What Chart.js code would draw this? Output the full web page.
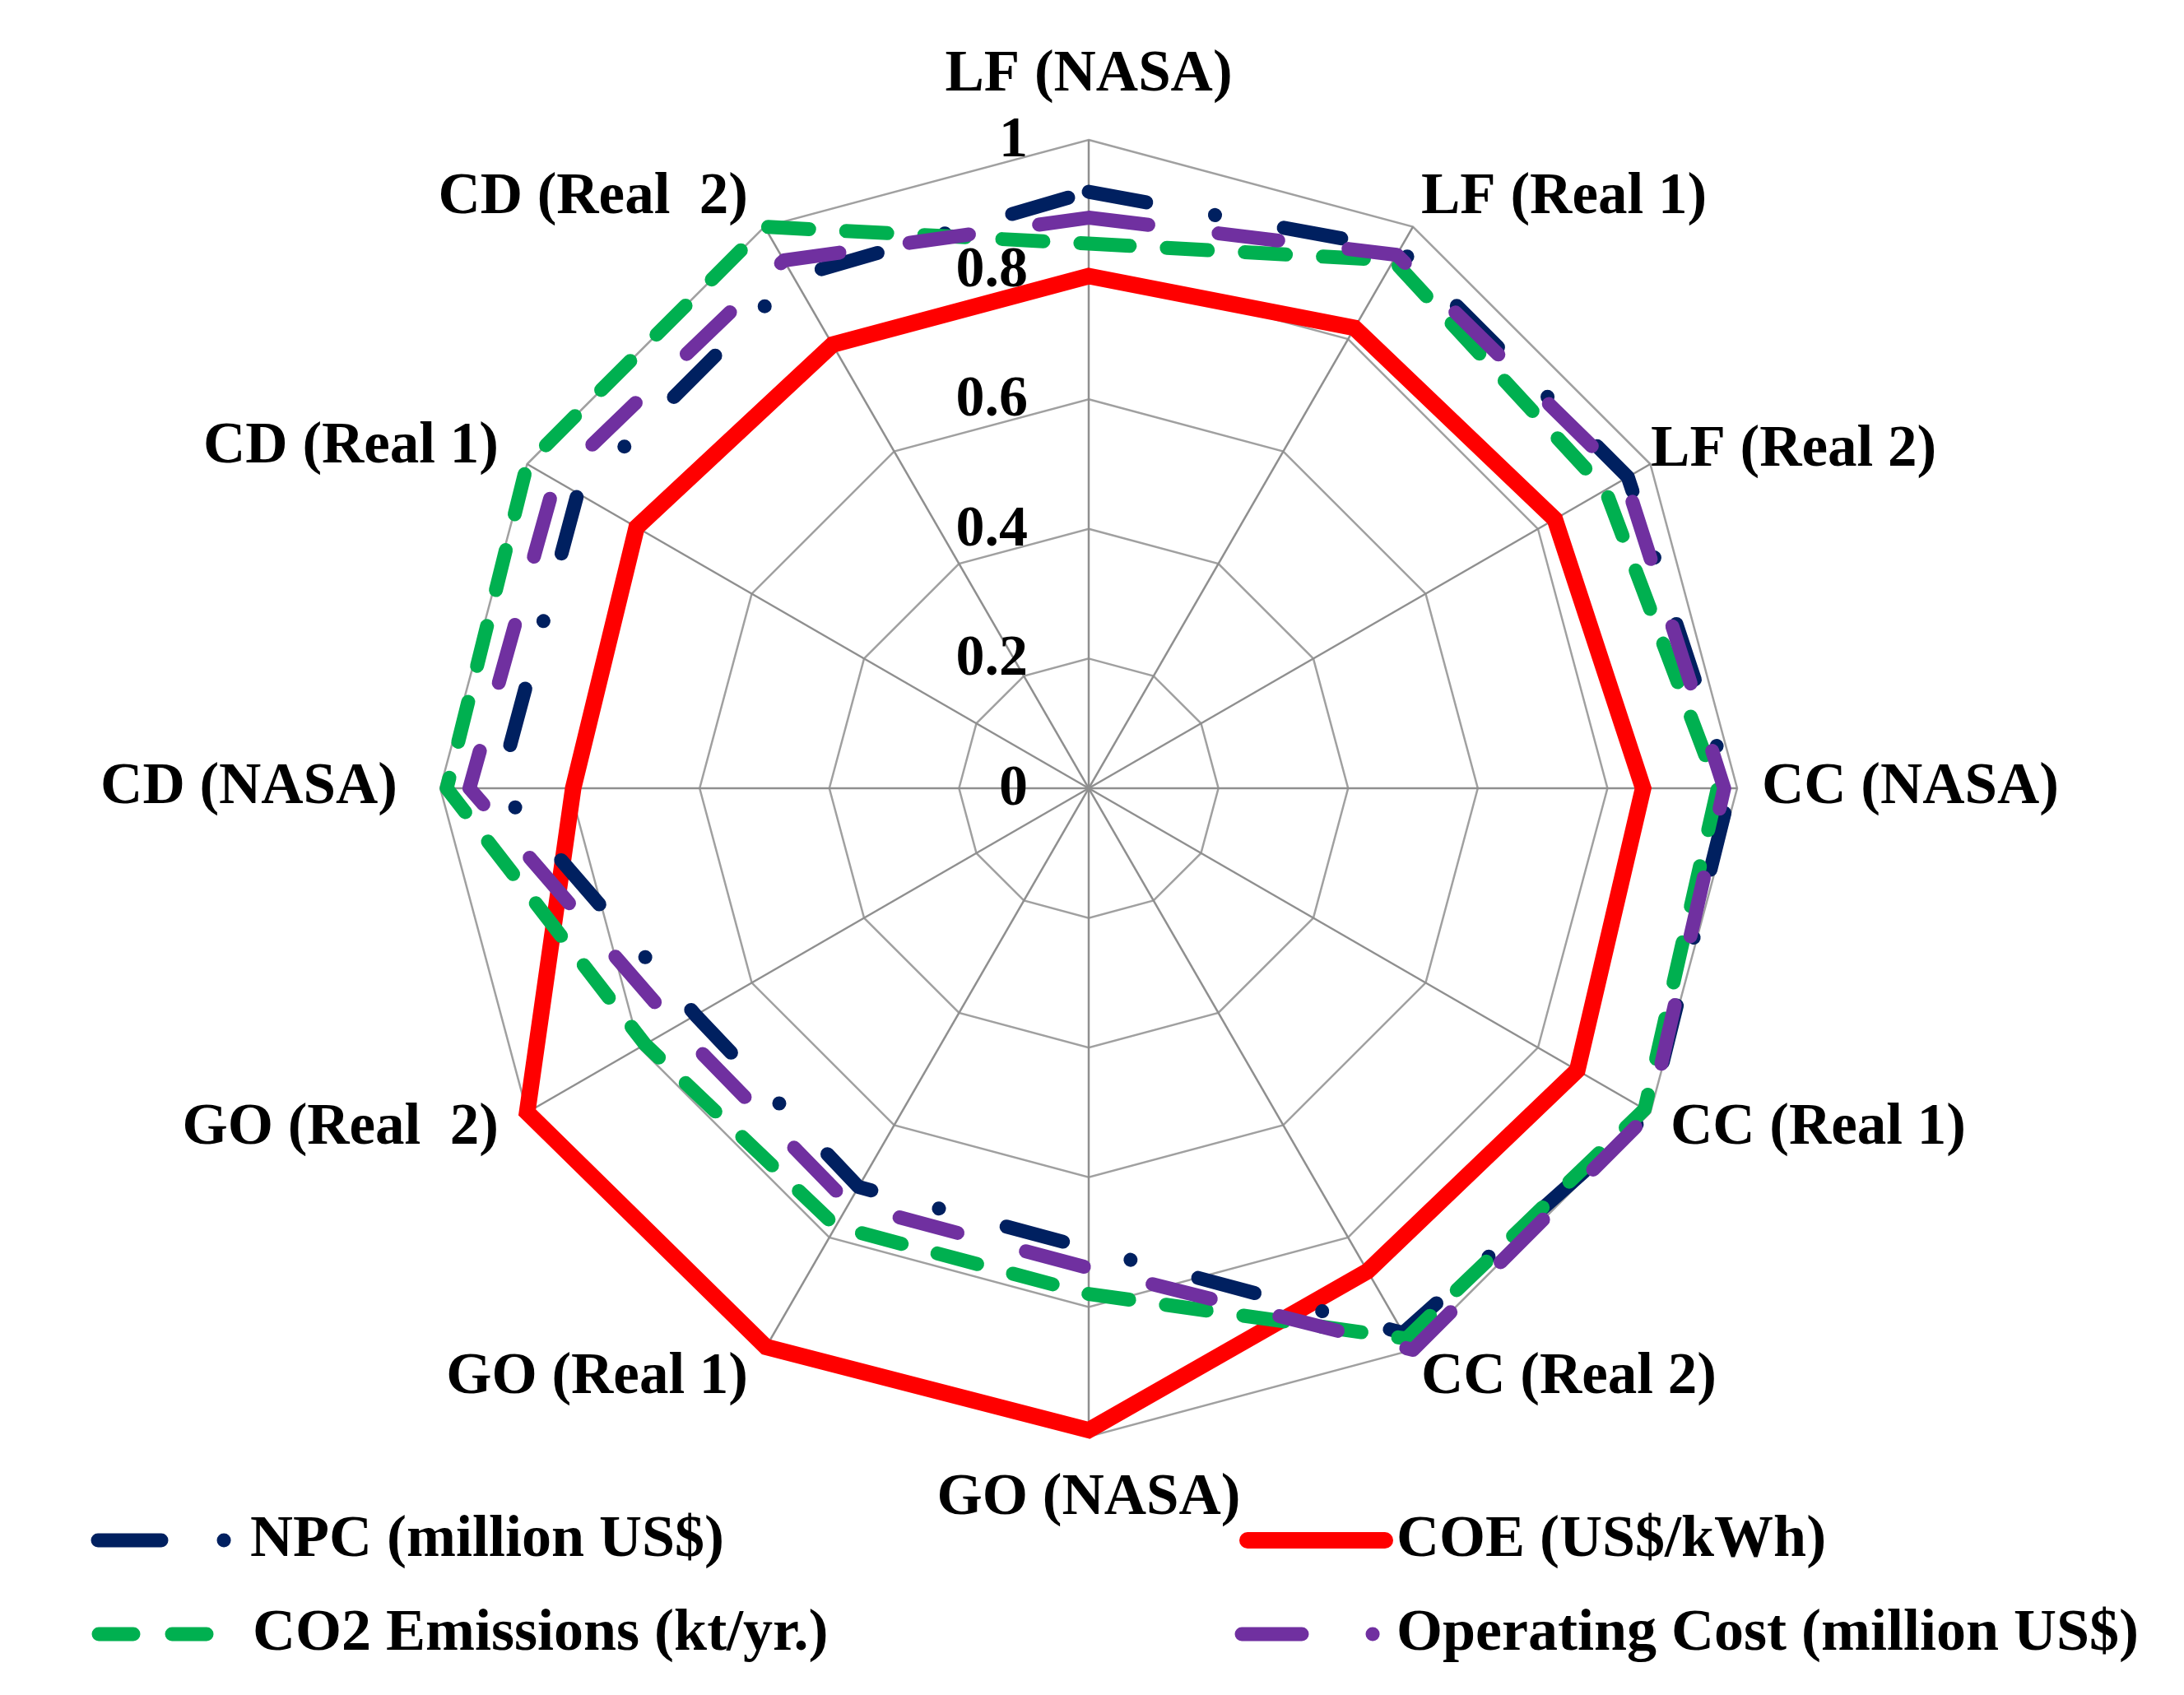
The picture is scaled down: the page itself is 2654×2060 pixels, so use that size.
<!DOCTYPE html>
<html>
<head>
<meta charset="utf-8">
<script src="https://cdn.jsdelivr.net/npm/chart.js@4.4.1/dist/chart.umd.min.js"></script>
<style>
html,body{margin:0;padding:0;background:#ffffff;}
canvas{display:block;}
</style>
</head>
<body>
<canvas id="c" width="2654" height="2060" style="width:2654px;height:2060px"></canvas>
<script>
// ---------------- data ----------------
const categories = ['LF (NASA)','LF (Real 1)','LF (Real 2)','CC (NASA)','CC (Real 1)','CC (Real 2)',
                    'GO (NASA)','GO (Real 1)','GO (Real  2)','CD (NASA)','CD (Real 1)','CD (Real  2)'];
const npcValues    = [0.92, 0.96, 0.96, 0.99, 1.00, 0.97, 0.71, 0.71, 0.70, 0.91, 0.91, 0.91];
const coeValues    = [0.79, 0.82, 0.83, 0.855, 0.87, 0.86, 0.99, 0.995, 1.00, 0.795, 0.805, 0.79];
const co2Values    = [0.84, 0.94, 0.92, 0.97, 0.99, 0.98, 0.78, 0.78, 0.79, 0.99, 1.00, 1.00];
const opCostValues = [0.88, 0.95, 0.955, 0.98, 1.00, 1.00, 0.74, 0.74, 0.735, 0.955, 0.95, 0.94];
const seriesNames  = ['NPC (million US$)', 'COE (US$/kWh)', 'CO2 Emissions (kt/yr.)', 'Operating Cost (million US$)'];
const tickValues   = [0, 0.2, 0.4, 0.6, 0.8, 1];
const tickLabels   = ['0', '0.2', '0.4', '0.6', '0.8', '1'];

// ---------------- styles ----------------
const FONT_LABEL = 'bold 71px "Liberation Serif", "Times New Roman", serif';
const FONT_TICK  = 'bold 70px "Liberation Serif", "Times New Roman", serif';
const FONT_LEG   = 'bold 72px "Liberation Serif", "Times New Roman", serif';
const NAVY = '#002060', RED = '#FF0000', GREEN = '#00B050', PURPLE = '#7030A0';
const DASH_W = 17, RED_W = 20;
const dashNPC = [71, 85, 0.1, 85];
const dashCO2 = [50, 45];
const dashOP  = [73, 86];

function ds(label, values, color, width, dash, order, join) {
  return {
    label: label, data: values, borderColor: color, backgroundColor: 'rgba(0,0,0,0)',
    borderWidth: width, borderDash: dash, borderCapStyle: 'round', borderJoinStyle: join,
    fill: false, pointRadius: 0, pointHoverRadius: 0, tension: 0, order: order
  };
}

const pointLabelPlugin = {
  id: 'pointLabelsCustom',
  afterDraw(chart) {
    const s = chart.scales.r, ctx = chart.ctx;
    ctx.save();
    ctx.fillStyle = '#000';
    ctx.font = FONT_LABEL;
    ctx.textBaseline = 'middle';
    categories.forEach((lab, i) => {
      const ang = s.getIndexAngle(i);
      const sn = Math.sin(ang), cs = Math.cos(ang);
      const p = s.getPointPosition(i, s.drawingArea + 40);
      let y = p.y;
      let x = p.x;
      let align;
      if (Math.abs(sn) < 0.05) { align = 'center'; y += (cs > 0 ? -38 : 36); }
      else align = sn > 0 ? 'left' : 'right';
      if (sn > 0.05) x -= 10;
      if (sn > 0.8 && sn < 0.95 && cs > 0) { x -= 24; y += 4; }
      if (sn < -0.95) x -= 12;
      ctx.textAlign = align;
      ctx.fillText(lab, x, y);
    });
    // tick labels
    ctx.font = FONT_TICK;
    ctx.textAlign = 'right';
    tickValues.forEach((v, k) => {
      const p = s.getPointPositionForValue(0, v);
      ctx.fillText(tickLabels[k], s.xCenter - 74, p.y + 2);
    });
    ctx.restore();
  }
};

const legendPlugin = {
  id: 'legendCustom',
  afterDraw(chart) {
    const ctx = chart.ctx;
    ctx.save();
    ctx.lineCap = 'round';
    const y1 = 1872, y2 = 1986;
    function seg(x0, x1, y, color, w) {
      ctx.strokeStyle = color; ctx.lineWidth = w;
      ctx.beginPath(); ctx.moveTo(x0, y); ctx.lineTo(x1, y); ctx.stroke();
    }
    // NPC
    seg(119, 196, y1, NAVY, DASH_W); seg(272, 272.1, y1, NAVY, DASH_W);
    // COE
    seg(1516, 1683, y1, RED, RED_W);
    // CO2
    seg(120, 162, y2, GREEN, DASH_W); seg(209, 251, y2, GREEN, DASH_W);
    // Operating cost
    seg(1509, 1582, y2, PURPLE, DASH_W); seg(1668, 1668.1, y2, PURPLE, DASH_W);
    ctx.fillStyle = '#000';
    ctx.font = FONT_LEG;
    ctx.textAlign = 'left';
    ctx.textBaseline = 'middle';
    ctx.fillText(seriesNames[0], 304, y1);
    ctx.fillText(seriesNames[1], 1697, y1);
    ctx.fillText(seriesNames[2], 307, y2);
    ctx.fillText(seriesNames[3], 1697, y2);
    ctx.restore();
  }
};

const whiteBg = {
  id: 'whiteBg',
  beforeDraw(chart) {
    const ctx = chart.ctx;
    ctx.save(); ctx.fillStyle = '#fff'; ctx.fillRect(0, 0, chart.width, chart.height); ctx.restore();
  }
};

new Chart(document.getElementById('c'), {
  type: 'radar',
  data: {
    labels: categories,
    datasets: [
      ds(seriesNames[0], npcValues, NAVY, DASH_W, dashNPC, 2, 'round'),
      ds(seriesNames[1], coeValues, RED, RED_W, [], 3, 'miter'),
      ds(seriesNames[2], co2Values, GREEN, DASH_W, dashCO2, 1, 'round'),
      ds(seriesNames[3], opCostValues, PURPLE, DASH_W, dashOP, 0, 'round')
    ]
  },
  options: {
    responsive: false,
    devicePixelRatio: 1,
    animation: false,
    layout: { padding: { left: 535, right: 543, top: 170, bottom: 314 } },
    plugins: { legend: { display: false }, tooltip: { enabled: false } },
    scales: {
      r: {
        min: 0, max: 1,
        ticks: { stepSize: 0.2, display: false, showLabelBackdrop: false },
        pointLabels: { display: false },
        grid: { color: '#a0a0a0', lineWidth: 2.5 },
        angleLines: { color: '#8f8f8f', lineWidth: 2.5 }
      }
    }
  },
  plugins: [whiteBg, pointLabelPlugin, legendPlugin]
});
</script>
</body>
</html>
